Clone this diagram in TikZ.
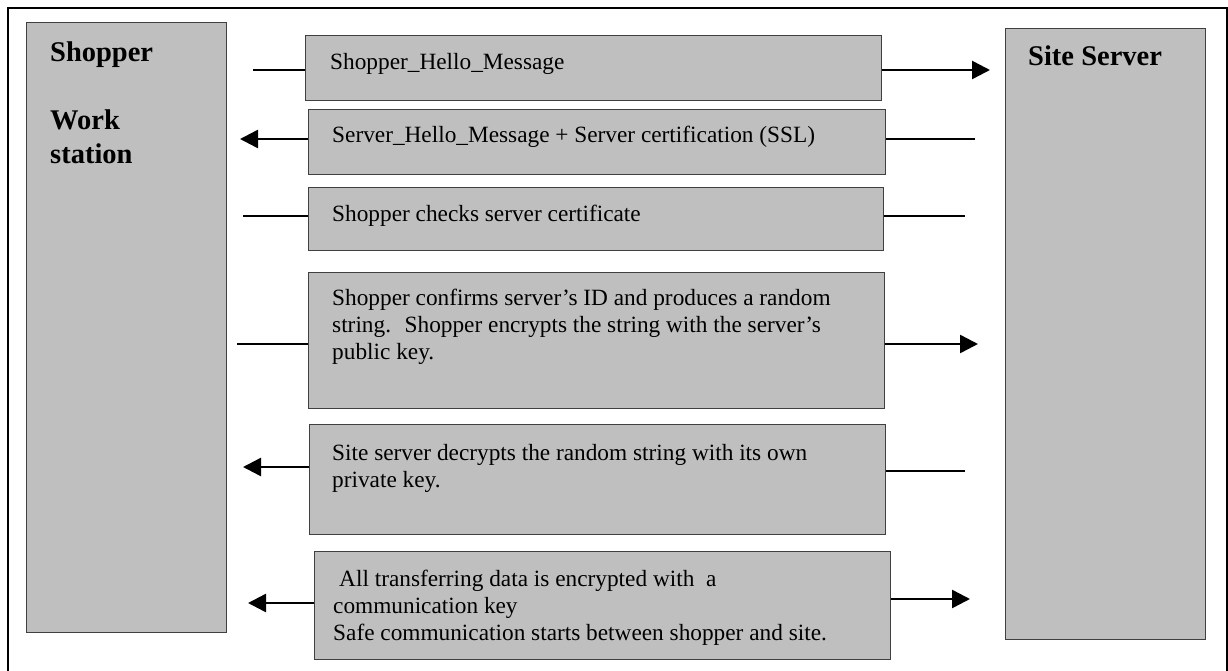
\documentclass[tikz,border=0pt]{standalone}
\usepackage{fontspec}
\setmainfont{Liberation Serif}
\usetikzlibrary{arrows.meta}

\begin{document}
\begin{tikzpicture}[x=1pt,y=-1pt,
		party/.style={draw=black!75,line width=1.2pt,fill=black!25,anchor=north west,inner sep=0pt},
		msg/.style={draw=black!75,line width=1.4pt,fill=black!25,anchor=north west,inner sep=0pt},
		title/.style={anchor=base west,inner sep=0pt,align=left,font=\fontsize{28.5}{34}\selectfont\bfseries},
		txt/.style={anchor=base west,inner sep=0pt,align=left,font=\fontsize{23.3}{27}\selectfont},
		link/.style={line width=2.5pt},
		tip/.style={link,-{Triangle[length=18pt,width=18pt]}}]

		\useasboundingbox (0,0) rectangle (1228,671);
		\draw[line width=2.2pt] (8,8) rectangle (1227,690);

		% the two parties (labels sit on their last baseline)
		\node[party,minimum width=200,minimum height=610] (shopper) at (26,22) {};
		\node[party,minimum width=200,minimum height=611] (server) at (1005,28) {};
		\node[title] (shopperlbl) at (50,164) {Shopper\\[34pt]Work\\station};
		\node[title] (serverlbl) at (1028,66) {Site Server};

		% the messages
		\node[msg,minimum width=576,minimum height=65] (m1) at (305,35) {};
		\node[msg,minimum width=577,minimum height=65] (m2) at (308,109) {};
		\node[msg,minimum width=575,minimum height=63] (m3) at (308,187) {};
		\node[msg,minimum width=576,minimum height=136] (m4) at (308,272) {};
		\node[msg,minimum width=576,minimum height=110] (m5) at (309,424) {};
		\node[msg,minimum width=576,minimum height=108] (m6) at (314,551) {};

		\node[txt] (t1) at (330,70) {Shopper\_Hello\_Message};
		\node[txt] (t2) at (332,143) {Server\_Hello\_Message + Server certification (SSL)};
		\node[txt] (t3) at (332,221) {Shopper checks server certificate};
		\node[txt] (t4) at (332,359) {Shopper confirms server's ID and produces a random\\
			string.~ Shopper encrypts the string with the server's\\ public key.};
		\node[txt] (t5) at (332,487) {Site server decrypts the random string with its own\\ private key.};
		\node[txt] (t6) at (333,640) {\hspace*{6pt}All transferring data is encrypted with~ a\\
			communication key\\ Safe communication starts between shopper and site.};

		% free ends of the connectors
		\coordinate (l1) at (253,70);  \coordinate (r1) at (990,70);
		\coordinate (l2) at (240,139); \coordinate (r2) at (975,139);
		\coordinate (l3) at (243,216); \coordinate (r3) at (965,216);
		\coordinate (l4) at (237,344); \coordinate (r4) at (978,344);
		\coordinate (l5) at (243,467); \coordinate (r5) at (965,471);
		\coordinate (l6) at (248,603); \coordinate (r6) at (970,599);

		\draw[link] (l1) -- (l1 -| m1.west);
		\draw[tip] (r1 -| m1.east) -- (r1);
		\draw[tip] (l2 -| m2.west) -- (l2);
		\draw[link] (r2 -| m2.east) -- (r2);
		\draw[link] (l3) -- (l3 -| m3.west);
		\draw[link] (r3 -| m3.east) -- (r3);
		\draw[link] (l4) -- (l4 -| m4.west);
		\draw[tip] (r4 -| m4.east) -- (r4);
		\draw[tip] (l5 -| m5.west) -- (l5);
		\draw[link] (r5 -| m5.east) -- (r5);
		\draw[tip] (l6 -| m6.west) -- (l6);
		\draw[tip] (r6 -| m6.east) -- (r6);

	\end{tikzpicture}
\end{document}
